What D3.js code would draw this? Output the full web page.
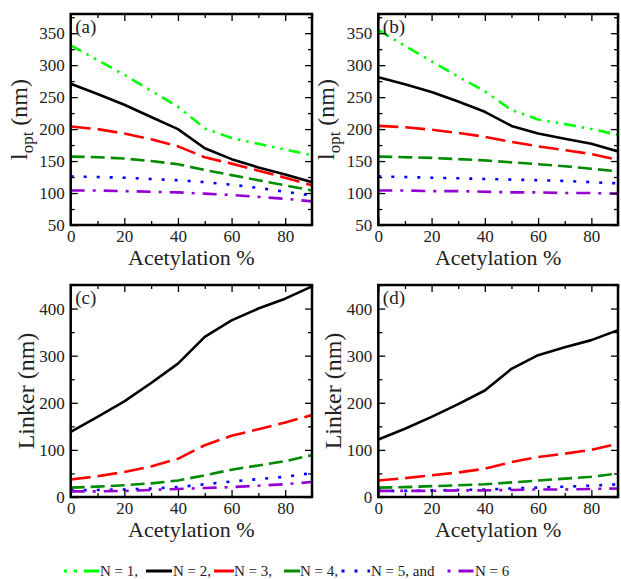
<!DOCTYPE html>
<html><head><meta charset="utf-8">
<script src="https://cdn.jsdelivr.net/npm/d3@7"></script>
<style>
html,body{margin:0;padding:0;background:#fff;}
svg, svg text{font-family:"Liberation Serif","DejaVu Serif",serif !important;}
</style></head>
<body><svg id="chart" width="621" height="579"></svg>
<script>
// ---------- DATA ----------
const acetylation = [0,10,20,30,40,50,60,70,80,90];
const seriesNames = ["N = 1", "N = 2", "N = 3", "N = 4", "N = 5", "N = 6"];

// Panel (a): l_opt (nm)
const loptA_N1 = [331,308,285,260,235,201,186,177,168,159];
const loptA_N2 = [271,255,238,219,200,170,153,140,129,117];
const loptA_N3 = [204,200,193,184,173,156,146,135,124,112];
const loptA_N4 = [157,156,154,150,145,136,128,120,112,104];
const loptA_N5 = [126,125,124,122,120,117,113,108,102,96];
const loptA_N6 = [104,104,103,102,101,99,97,94,91,87];

// Panel (b): l_opt (nm)
const loptB_N1 = [355,330,306,282,259,230,215,208,200,191];
const loptB_N2 = [281,270,258,243,227,205,193,185,177,165];
const loptB_N3 = [205,203,199,194,188,180,173,167,161,152];
const loptB_N4 = [157,156,155,153,151,148,145,142,138,134];
const loptB_N5 = [126,125,124,123,122,121,120,119,117,115];
const loptB_N6 = [104,104,103,103,102,101,101,100,100,99];

// Panel (c): Linker (nm)
const linkC_N2 = [138,170,203,242,283,340,375,400,421,447];
const linkC_N3 = [37,44,53,65,81,110,130,144,158,174];
const linkC_N4 = [20,22,25,29,35,46,58,67,76,89];
const linkC_N5 = [14,15,16,18,21,27,33,38,43,51];
const linkC_N6 = [12,12,13,15,17,19,21,24,27,32];

// Panel (d): Linker (nm)
const linkD_N2 = [122,145,170,197,226,272,301,318,333,354];
const linkD_N3 = [35,40,46,52,60,74,85,92,100,113];
const linkD_N4 = [20,21,23,25,27,31,35,39,43,50];
const linkD_N5 = [13,13,14,15,16,18,20,22,24,27];
const linkD_N6 = [13,13,13,14,14,15,16,16,17,18];

const xTicksMajor = [0,20,40,60,80];
const xTicksMinor = [10,30,50,70,90];
const loptTicksMajor = [50,100,150,200,250,300,350];
const loptTicksMinor = [75,125,175,225,275,325,375];
const linkTicksMajor = [0,100,200,300,400];
const linkTicksMinor = [50,150,250,350,450];

// ---------- STYLES ----------
const FONT = "'Liberation Serif', 'DejaVu Serif', serif";
const colors = ["#00ff00", "#000000", "#ff0000", "#008b00", "#0000ff", "#9400d3"];
const dashes = ["12,6,2.5,6,2.5,6", null, "20,7", "14,6", "3,10", "14,8,3,8"];

const svg = d3.select("#chart");

const panels = [
  {label:"(a)", x0:70.7, x1:312, y0:14, y1:225, dom:[50,380], maj:loptTicksMajor, min:loptTicksMinor,
   series:[loptA_N1,loptA_N2,loptA_N3,loptA_N4,loptA_N5,loptA_N6], idx:[0,1,2,3,4,5], ylab:"lopt", yoff:44},
  {label:"(b)", x0:378.3, x1:618, y0:14, y1:225, dom:[50,380], maj:loptTicksMajor, min:loptTicksMinor,
   series:[loptB_N1,loptB_N2,loptB_N3,loptB_N4,loptB_N5,loptB_N6], idx:[0,1,2,3,4,5], ylab:"lopt", yoff:44},
  {label:"(c)", x0:70.7, x1:312, y0:285, y1:497, dom:[0,450], maj:linkTicksMajor, min:linkTicksMinor,
   series:[linkC_N2,linkC_N3,linkC_N4,linkC_N5,linkC_N6], idx:[1,2,3,4,5], ylab:"Linker (nm)", yoff:37},
  {label:"(d)", x0:378.3, x1:618, y0:285, y1:497, dom:[0,450], maj:linkTicksMajor, min:linkTicksMinor,
   series:[linkD_N2,linkD_N3,linkD_N4,linkD_N5,linkD_N6], idx:[1,2,3,4,5], ylab:"Linker (nm)", yoff:37}
];

panels.forEach((p, pi) => {
  const w = p.x1 - p.x0, h = p.y1 - p.y0;
  const x = d3.scaleLinear().domain([0,90]).range([0,w]);
  const y = d3.scaleLinear().domain(p.dom).range([h,0]);
  const g = svg.append("g").attr("transform", `translate(${p.x0},${p.y0})`);

  const clipId = "clip" + pi;
  g.append("clipPath").attr("id", clipId).append("rect").attr("width", w).attr("height", h);

  const line = d3.line().x((d,i) => x(acetylation[i])).y(d => y(d));
  const lg = g.append("g").attr("clip-path", `url(#${clipId})`);
  p.series.forEach((s, k) => {
    const ci = p.idx[k];
    lg.append("path").datum(s)
      .attr("d", line)
      .attr("fill", "none")
      .attr("stroke", colors[ci])
      .attr("stroke-width", 2.6)
      .attr("stroke-dasharray", dashes[ci])
      .attr("stroke-linejoin", "round");
  });

  function ax(axisFn, scale, vals, size, fmt, pad, tr) {
    const a = axisFn(scale).tickValues(vals).tickSizeInner(size).tickSizeOuter(0).tickPadding(pad);
    if (!fmt) a.tickFormat("");
    const ag = g.append("g").attr("transform", tr || null).call(a);
    ag.attr("font-family", null);
    ag.select(".domain").remove();
    ag.selectAll("line").attr("stroke", "#000").attr("stroke-width", 1.3);
    ag.selectAll("text").attr("font-size", 17).attr("fill", "#222")
      .style("font-family", FONT);
    return ag;
  }
  ax(d3.axisBottom, x, xTicksMajor, -7, true, 4.5, `translate(0,${h})`);
  ax(d3.axisBottom, x, xTicksMinor, -4, false, 0, `translate(0,${h})`);
  ax(d3.axisTop, x, xTicksMajor, -7, false, 0);
  ax(d3.axisTop, x, xTicksMinor, -4, false, 0);
  ax(d3.axisLeft, y, p.maj, -7, true, 6);
  ax(d3.axisLeft, y, p.min.filter(v => v <= p.dom[1]), -4, false, 0);
  ax(d3.axisRight, y, p.maj, -7, false, 0, `translate(${w},0)`);
  ax(d3.axisRight, y, p.min.filter(v => v <= p.dom[1]), -4, false, 0, `translate(${w},0)`);

  g.append("rect").attr("width", w).attr("height", h)
    .attr("fill", "none").attr("stroke", "#000").attr("stroke-width", 2.5);

  g.append("text").attr("x", 4.5).attr("y", 19).attr("font-size", 19).attr("fill", "#222")
    .style("font-family", FONT).text(p.label);

  g.append("text").attr("x", w/2).attr("y", h + 40).attr("text-anchor", "middle")
    .attr("font-size", 22).attr("fill", "#222").style("font-family", FONT).text("Acetylation %");

  const yl = g.append("text")
    .attr("transform", `translate(${-p.yoff},${h/2}) rotate(-90)`)
    .attr("text-anchor", "middle").attr("font-size", 24).attr("fill", "#222")
    .style("font-family", FONT);
  if (p.ylab === "lopt") {
    yl.append("tspan").text("l");
    yl.append("tspan").attr("font-size", 17).attr("dy", 6).text("opt");
    yl.append("tspan").attr("dy", -6).text(" (nm)");
  } else {
    yl.text(p.ylab);
  }
});

// ---------- LEGEND ----------
const legendItems = [
  {ci:0, x1:64, x2:99, dash:"3,7,3,7,15", tx:100, text:"N = 1,"},
  {ci:1, x1:146, x2:172, dash:null, tx:173, text:"N = 2,"},
  {ci:2, x1:214, x2:234, dash:null, tx:234, text:"N = 3,"},
  {ci:3, x1:284, x2:300, dash:null, tx:300, text:"N = 4,"},
  {ci:4, x1:341.5, x2:370, dash:"3,10", tx:371, text:"N = 5, and"},
  {ci:5, x1:447.5, x2:474, dash:"3,8,15", tx:475, text:"N = 6"}
];
const leg = svg.append("g");
legendItems.forEach(it => {
  leg.append("line").attr("x1", it.x1).attr("x2", it.x2).attr("y1", 571).attr("y2", 571)
    .attr("stroke", colors[it.ci]).attr("stroke-width", 3)
    .attr("stroke-dasharray", it.dash);
  leg.append("text").attr("x", it.tx).attr("y", 576).attr("font-size", 15).attr("fill", "#222")
    .style("font-family", FONT).text(it.text);
});
</script></body></html>
